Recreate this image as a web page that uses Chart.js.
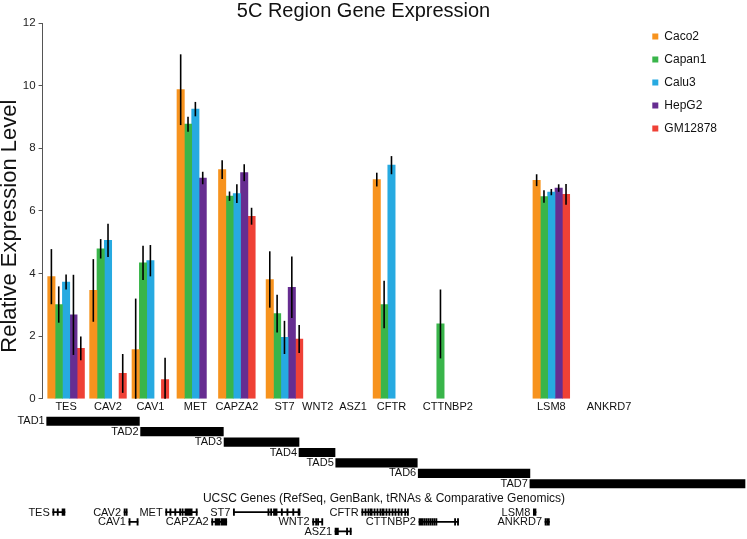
<!DOCTYPE html>
<html>
<head>
<meta charset="utf-8">
<script src="https://cdn.jsdelivr.net/npm/chart.js@4.4.0/dist/chart.umd.min.js"></script>
<style>
    body { margin: 0; background: #fff; }
    #wrap { position: relative; width: 747px; height: 539px; overflow: hidden; }
    canvas { position: absolute; }
</style>
</head>
<body>
<div id="wrap">
    <canvas id="bars" width="747" height="416" style="left:0;top:0"></canvas>
    <canvas id="tads" width="747" height="85" style="left:0;top:410px"></canvas>
    <canvas id="genes" width="726" height="49" style="left:21px;top:490px"></canvas>
</div>
<script>
// expression data, one entry per gene (null = not measured)
const genes = ['TES', 'CAV2', 'CAV1', 'MET', 'CAPZA2', 'ST7', 'WNT2', 'ASZ1', 'CFTR', 'CTTNBP2', 'LSM8', 'ANKRD7'];
const genePos = [0, 0.96, 1.93, 2.96, 3.91, 5.0, 5.76, 6.57, 7.45, 8.74, 11.11, 12.43];

const caco2 = [3.90, 3.46, 1.57, 9.87, 7.32, 3.81, null, null, 7.00, null, 6.98, null];
const caco2Err = [0.88, 1.00, 1.63, 1.13, 0.30, 0.90, null, null, 0.22, null, 0.19, null];
const capan1 = [3.01, 4.79, 4.34, 8.77, 6.47, 2.72, null, null, 3.01, 2.39, 6.46, null];
const capan1Err = [0.58, 0.31, 0.55, 0.24, 0.15, 0.60, null, null, 0.76, 1.10, 0.20, null];
const calu3 = [3.73, 5.06, 4.41, 9.25, 6.55, 1.96, null, null, 7.46, null, 6.60, null];
const calu3Err = [0.24, 0.53, 0.50, 0.23, 0.30, 0.53, null, null, 0.29, null, 0.10, null];
const hepg2 = [2.68, null, null, 7.05, 7.22, 3.56, null, null, null, null, 6.73, null];
const hepg2Err = [1.28, null, null, 0.20, 0.27, 0.98, null, null, null, null, 0.12, null];
const gm12878 = [1.61, 0.81, 0.61, null, 5.83, 1.91, null, null, null, null, 6.53, null];
const gm12878Err = [0.38, 0.62, 0.70, null, 0.27, 0.45, null, null, null, null, 0.33, null];

// TADs (kb from start of region)
const tadNames = ['TAD1', 'TAD2', 'TAD3', 'TAD4', 'TAD5', 'TAD6', 'TAD7'];
const tadStart = [0, 386, 729, 1037, 1188, 1527, 1986];
const tadEnd = [381, 726, 1037, 1185, 1523, 1986, 2870];

// UCSC gene track (kb from start of region)
const trackGenes = ['TES', 'CAV2', 'CAV1', 'MET', 'CAPZA2', 'ST7', 'WNT2', 'ASZ1', 'CFTR', 'CTTNBP2', 'LSM8', 'ANKRD7'];
const trackRow = [1, 1, 2, 1, 2, 1, 2, 3, 1, 2, 1, 2];
const trackStart = [25, 318, 338, 489, 678, 767, 1093, 1185, 1295, 1530, 2000, 2048];
const trackEnd = [75, 330, 375, 618, 740, 1041, 1134, 1251, 1486, 1692, 2011, 2066];
const trackExons = [
    [[25, 29], [43, 47], [63, 75]],
    [[318, 322], [326, 330]],
    [[338, 342], [371, 375]],
    [[489, 493], [506, 510], [526, 530], [546, 550], [556, 560], [568, 598], [614, 618]],
    [[678, 682], [692, 712], [716, 740]],
    [[767, 771], [909, 913], [920, 924], [932, 947], [964, 968], [987, 991], [1011, 1015], [1033, 1041]],
    [[1093, 1097], [1105, 1109], [1113, 1117], [1130, 1134]],
    [[1185, 1199], [1232, 1236], [1247, 1251]],
    [[1295, 1299], [1308, 1312], [1320, 1324], [1329, 1338], [1345, 1349], [1357, 1361], [1369, 1373], [1378, 1387],
     [1394, 1398], [1406, 1410], [1419, 1423], [1431, 1435], [1444, 1448], [1456, 1460], [1471, 1475], [1482, 1486]],
    [[1530, 1548], [1551, 1555], [1559, 1563], [1567, 1571], [1575, 1579], [1583, 1587], [1591, 1595], [1599, 1603],
     [1676, 1680], [1688, 1692]],
    [[2000, 2011]],
    [[2048, 2052], [2055, 2066]]
];

Chart.defaults.font.family = "'Liberation Sans', Arial, Helvetica, sans-serif";

const errorBars = {
    id: 'errorBars',
    afterDatasetsDraw(chart) {
        const ctx = chart.ctx;
        const y = chart.scales.y;
        ctx.save();
        ctx.strokeStyle = '#000';
        ctx.lineWidth = 1.6;
        chart.data.datasets.forEach((ds, i) => {
            chart.getDatasetMeta(i).data.forEach((bar, j) => {
                const v = ds.data[j].y;
                const e = ds.errors[j];
                if (v == null || e == null) return;
                ctx.beginPath();
                ctx.moveTo(bar.x, y.getPixelForValue(v + e));
                ctx.lineTo(bar.x, y.getPixelForValue(Math.max(0, v - e)));
                ctx.stroke();
            });
        });
        ctx.restore();
    }
};

function series(label, values, errs, color) {
    return {
        label: label,
        data: genePos.map((x, i) => ({ x: x, y: values[i] })),
        errors: errs,
        backgroundColor: color,
        borderWidth: 0,
        barThickness: 7.35
    };
}

new Chart(document.getElementById('bars'), {
    type: 'bar',
    data: {
        datasets: [
            series('Caco2', caco2, caco2Err, '#F7931E'),
            series('Capan1', capan1, capan1Err, '#39B54A'),
            series('Calu3', calu3, calu3Err, '#27AAE1'),
            series('HepG2', hepg2, hepg2Err, '#662D91'),
            series('GM12878', gm12878, gm12878Err, '#EF4136')
        ]
    },
    options: {
        responsive: false,
        animation: false,
        devicePixelRatio: 1,
        layout: { padding: { right: 20 } },
        plugins: {
            title: {
                display: true,
                text: '5C Region Gene Expression',
                color: '#111',
                font: { size: 20, weight: 'normal', lineHeight: 1.15 },
                padding: 0
            },
            legend: {
                position: 'right',
                align: 'start',
                fullSize: false,
                title: { display: true, text: '', font: { size: 1 }, padding: { top: -2.3, bottom: -2.3 } },
                labels: { boxWidth: 6, boxHeight: 6, padding: 11, color: '#111', font: { size: 12 } }
            },
            tooltip: { enabled: false }
        },
        scales: {
            x: {
                type: 'linear',
                offset: false,
                min: -0.538,
                max: 13.17,
                grid: { display: false, drawTicks: false, offset: false },
                border: { display: false },
                afterBuildTicks: axis => {
                    axis.ticks = genePos.map(v => ({ value: v }));
                },
                ticks: {
                    autoSkip: false,
                    maxRotation: 0,
                    padding: 2,
                    color: '#111',
                    font: { size: 11 },
                    callback: (v, i) => genes[i]
                }
            },
            y: {
                min: 0,
                max: 12,
                ticks: { stepSize: 2, padding: 3, color: '#222', font: { size: 11.5 } },
                grid: { drawOnChartArea: false, tickLength: 4, color: '#555' },
                border: { color: '#555' },
                title: {
                    display: true,
                    text: 'Relative Expression Level     ',
                    color: '#111',
                    font: { size: 22, lineHeight: 0.9 },
                    padding: 0
                }
            }
        }
    },
    plugins: [errorBars]
});

// TAD track
const tadLabels = {
    id: 'tadLabels',
    afterDatasetsDraw(chart) {
        const ctx = chart.ctx;
        const x = chart.scales.x;
        ctx.save();
        ctx.fillStyle = '#111';
        ctx.font = "11px 'Liberation Sans', Arial, sans-serif";
        ctx.textAlign = 'right';
        ctx.textBaseline = 'middle';
        chart.getDatasetMeta(0).data.forEach((bar, i) => {
            ctx.fillText(tadNames[i], x.getPixelForValue(tadStart[i]) - 2, bar.y);
        });
        ctx.restore();
    }
};

new Chart(document.getElementById('tads'), {
    type: 'bar',
    data: {
        labels: tadNames,
        datasets: [{
            data: tadStart.map((s, i) => [s, tadEnd[i]]),
            backgroundColor: '#000',
            barThickness: 8.5
        }]
    },
    options: {
        indexAxis: 'y',
        responsive: false,
        animation: false,
        devicePixelRatio: 1,
        layout: { padding: { top: 6, bottom: 6, left: 0, right: 0 } },
        plugins: { legend: { display: false }, tooltip: { enabled: false } },
        scales: {
            x: { type: 'linear', display: false, min: -191.9, max: 2878.2 },
            y: { display: false }
        }
    },
    plugins: [tadLabels]
});

// gene track
const rowNames = ['row1', 'row2', 'row3'];

const geneLabels = {
    id: 'geneLabels',
    afterDatasetsDraw(chart) {
        const ctx = chart.ctx;
        const x = chart.scales.x;
        const y = chart.scales.y;
        ctx.save();
        ctx.fillStyle = '#111';
        ctx.font = "11px 'Liberation Sans', Arial, sans-serif";
        ctx.textAlign = 'right';
        ctx.textBaseline = 'middle';
        trackGenes.forEach((g, i) => {
            ctx.fillText(g, x.getPixelForValue(trackStart[i]) - 3, y.getPixelForValue(trackRow[i] - 1) + 0.5);
        });
        ctx.restore();
    }
};

const exonData = [];
trackExons.forEach((list, i) => {
    list.forEach(ex => exonData.push({ x: ex, y: rowNames[trackRow[i] - 1] }));
});

new Chart(document.getElementById('genes'), {
    type: 'bar',
    data: {
        labels: rowNames,
        datasets: [
            {
                data: trackGenes.map((g, i) => ({ x: [trackStart[i], trackEnd[i]], y: rowNames[trackRow[i] - 1] })),
                backgroundColor: '#000',
                barThickness: 1,
                grouped: false
            },
            {
                data: exonData,
                backgroundColor: '#000',
                barThickness: 6.5,
                minBarLength: 1.2,
                grouped: false
            }
        ]
    },
    options: {
        indexAxis: 'y',
        responsive: false,
        animation: false,
        devicePixelRatio: 1,
        layout: { padding: { top: 0, bottom: 2.8, left: 0, right: 0 } },
        plugins: {
            legend: { display: false },
            tooltip: { enabled: false },
            title: {
                display: true,
                text: 'UCSC Genes (RefSeq, GenBank, tRNAs & Comparative Genomics)',
                color: '#111',
                font: { size: 12, weight: 'normal' },
                padding: { top: 1, bottom: 2 }
            }
        },
        scales: {
            x: { type: 'linear', display: false, min: -105.6, max: 2878.2 },
            y: { display: false }
        }
    },
    plugins: [geneLabels]
});
</script>
</body>
</html>
